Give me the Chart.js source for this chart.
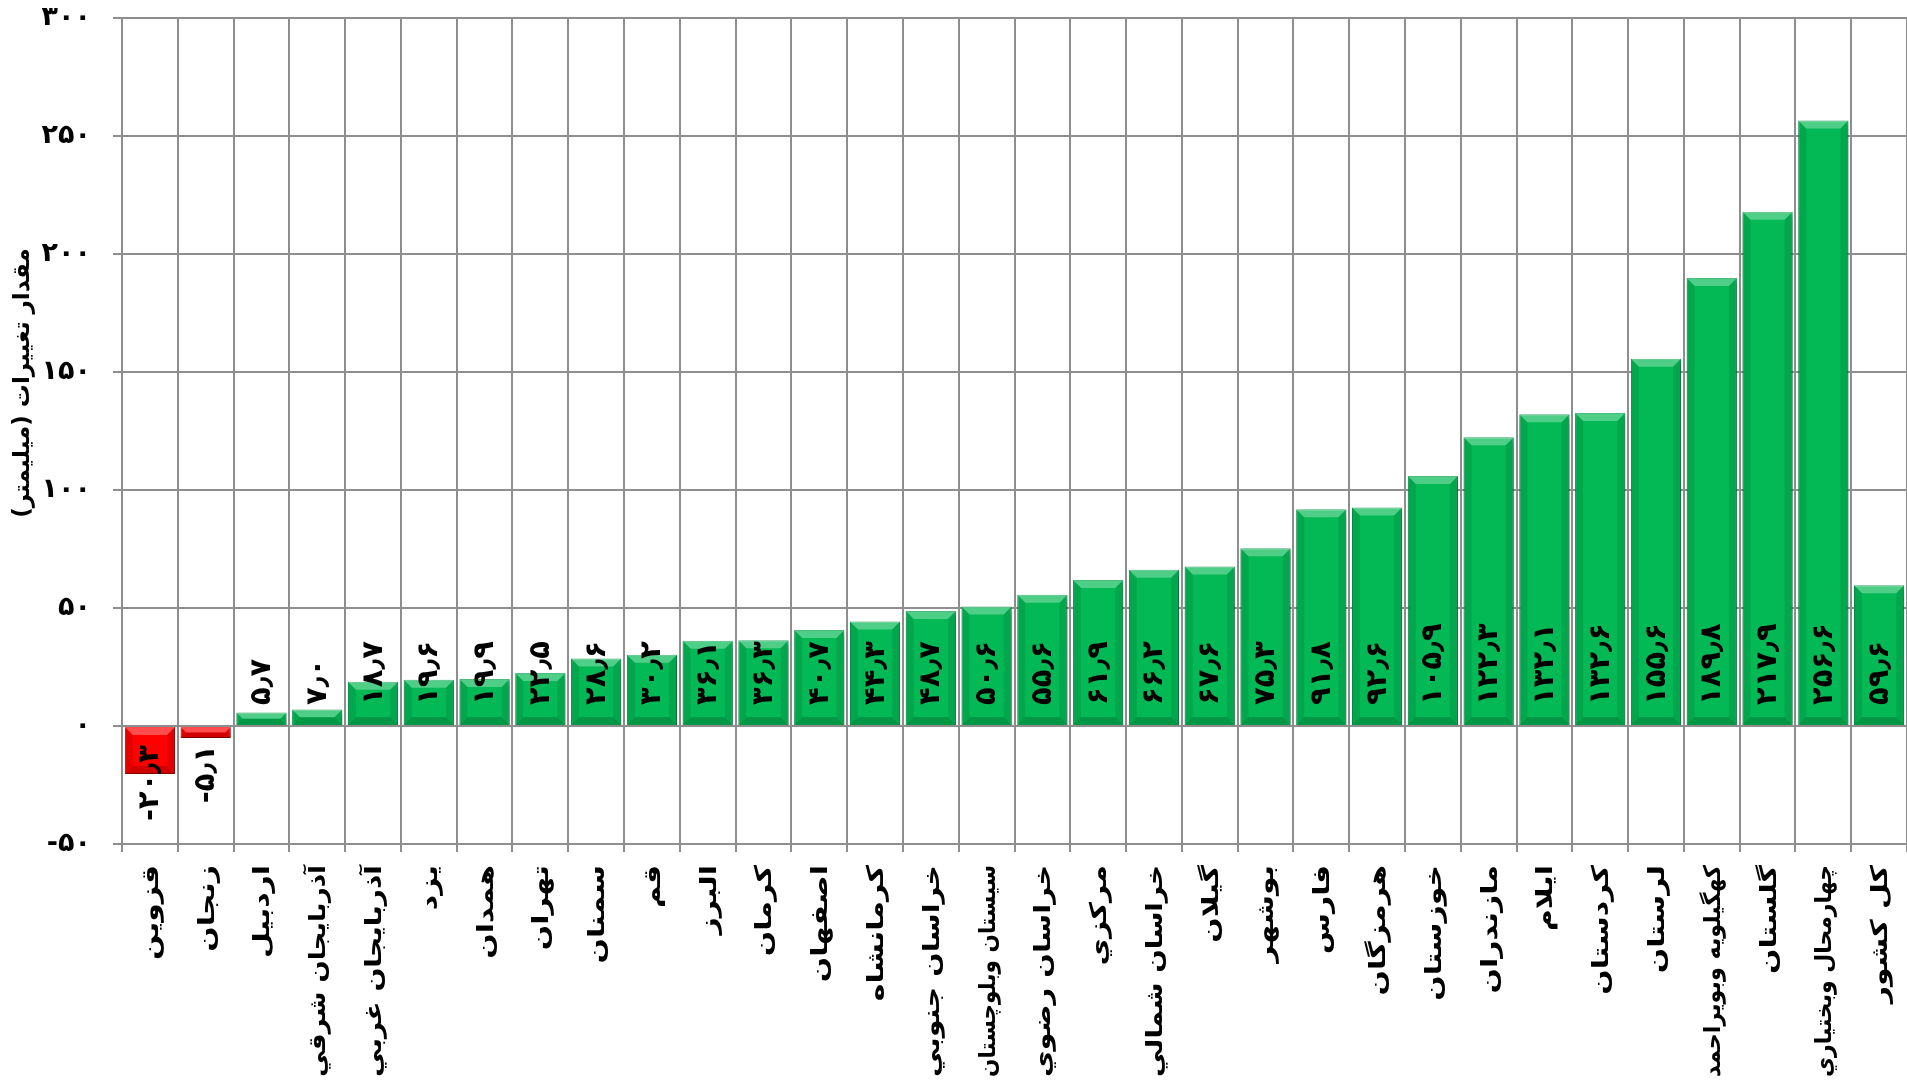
<!DOCTYPE html>
<html>
<head>
<meta charset="utf-8">
<script src="https://cdn.jsdelivr.net/npm/chart.js@4.4.0/dist/chart.umd.min.js"></script>
<style>
html, body { margin: 0; padding: 0; background: #fff; overflow: hidden; }
</style>
</head>
<body>
<canvas id="myChart" width="1907" height="1083"></canvas>
<script>
// استان ها
const provinces = ['قزوین', 'زنجان', 'اردبیل', 'آذربایجان شرقي', 'آذربایجان غربي', 'یزد', 'همدان', 'تهران',
  'سمنان', 'قم', 'البرز', 'کرمان', 'اصفهان', 'کرمانشاه', 'خراسان جنوبي', 'سیستان وبلوچستان',
  'خراسان رضوي', 'مرکزي', 'خراسان شمالي', 'گیلان', 'بوشهر', 'فارس', 'هرمزگان', 'خوزستان',
  'مازندران', 'ایلام', 'کردستان', 'لرستان', 'کهگیلویه وبویراحمد', 'گلستان', 'چهارمحال وبختیاري', 'کل کشور'];
// مقدار تغییرات (میلیمتر)
const values = [-20.3, -5.1, 5.7, 7.0, 18.7, 19.6, 19.9, 22.5,
  28.6, 30.2, 36.1, 36.3, 40.7, 44.3, 48.7, 50.6,
  55.6, 61.9, 66.2, 67.6, 75.3, 91.8, 92.6, 105.9,
  122.3, 132.1, 132.6, 155.6, 189.8, 217.9, 256.6, 59.6];
const yMin = -50, yMax = 300, yStep = 50;
const yTitle = 'مقدار تغییرات (میلیمتر)';

const faDigits = '۰۱۲۳۴۵۶۷۸۹';
function toFa(n, dec) {
  const s = dec ? n.toFixed(1) : String(n);
  return s.replace(/\d/g, d => faDigits[d]).replace('.', '٫');
}

const gridCol = '#8e8e8e';

// سایه، برجستگی و برچسب ها
const extras = {
  id: 'extras',
  beforeDatasetsDraw(chart) {
    const c = chart.ctx;
    c.save();
    c.shadowColor = 'rgba(0,0,0,0.35)';
    c.shadowBlur = 5;
    c.shadowOffsetX = 2;
    c.shadowOffsetY = 3;
  },
  afterDatasetsDraw(chart) {
    const c = chart.ctx;
    c.restore();
    const y0 = chart.scales.y.getPixelForValue(0);
    chart.getDatasetMeta(0).data.forEach((bar, i) => {
      const p = bar.getProps(['x', 'y', 'base', 'width'], true);
      const l = p.x - p.width / 2, r = p.x + p.width / 2;
      const top = Math.min(p.y, p.base), bot = Math.max(p.y, p.base);
      const b = Math.min(8, (bot - top) / 2);
      c.fillStyle = 'rgba(255,255,255,0.3)';
      c.beginPath(); c.moveTo(l, top); c.lineTo(r, top); c.lineTo(r - b, top + b); c.lineTo(l + b, top + b); c.closePath(); c.fill();
      c.fillStyle = 'rgba(0,0,0,0.10)';
      c.beginPath(); c.moveTo(l, top); c.lineTo(l + b, top + b); c.lineTo(l + b, bot - b); c.lineTo(l, bot); c.closePath(); c.fill();
      c.beginPath(); c.moveTo(r, top); c.lineTo(r - b, top + b); c.lineTo(r - b, bot - b); c.lineTo(r, bot); c.closePath(); c.fill();
      c.fillStyle = 'rgba(0,0,0,0.18)';
      c.beginPath(); c.moveTo(l, bot); c.lineTo(r, bot); c.lineTo(r - b, bot - b); c.lineTo(l + b, bot - b); c.closePath(); c.fill();

      const pos = values[i] >= 0;
      c.save();
      c.translate(p.x + 1, pos ? y0 - 21 : y0 + 19);
      c.rotate(-Math.PI / 2);
      c.font = 'bold 29px "DejaVu Sans"';
      c.fillStyle = '#000';
      c.textBaseline = 'middle';
      c.textAlign = pos ? 'left' : 'right';
      c.letterSpacing = '6px';
      c.fillText(toFa(values[i], true), 0, 0);
      c.restore();
    });
  },
  afterDraw(chart) {
    const c = chart.ctx;
    const xs = chart.scales.x;
    const yb = chart.chartArea.bottom;
    c.font = 'bold 23px "DejaVu Sans"';
    provinces.forEach((name, i) => {
      const w = c.measureText(name).width;
      const s = Math.min(1.3, 212 / w);
      c.save();
      c.translate(xs.getPixelForValue(i) + 2, yb + 21);
      c.rotate(-Math.PI / 2);
      c.scale(s, 1);
      c.fillStyle = '#000';
      c.direction = 'rtl';
      c.textAlign = 'right';
      c.textBaseline = 'middle';
      c.fillText(name, 0, 0);
      c.restore();
    });
    // عنوان محور عمودی
    c.save();
    c.translate(23, 383);
    c.rotate(-Math.PI / 2);
    c.font = 'bold 23px "DejaVu Sans"';
    c.fillStyle = '#000';
    c.direction = 'rtl';
    c.textAlign = 'center';
    c.textBaseline = 'middle';
    c.fillText(yTitle, 0, 0);
    c.restore();
  }
};

const ctx = document.getElementById('myChart');
new Chart(ctx, {
  type: 'bar',
  data: {
    labels: provinces,
    datasets: [{
      data: values,
      backgroundColor: values.map(v => v < 0 ? '#ff0000' : '#03b955'),
      borderColor: values.map(v => v < 0 ? '#d00000' : '#02a049'),
      borderWidth: 1,
      barPercentage: 0.9,
      categoryPercentage: 1
    }]
  },
  options: {
    responsive: false,
    animation: false,
    layout: { padding: { top: 18, right: 0, left: 0, bottom: 0 } },
    plugins: { legend: { display: false }, tooltip: { enabled: false } },
    scales: {
      x: {
        grid: { offset: true, color: gridCol, lineWidth: 2, tickLength: 8 },
        border: { color: gridCol, width: 2 },
        ticks: { display: false },
        afterFit(s) { s.height = 1083 - 844; }
      },
      y: {
        min: yMin, max: yMax,
        ticks: {
          stepSize: yStep,
          callback: v => toFa(v),
          color: '#000',
          padding: 22,
          font: { family: 'DejaVu Sans', size: 27, weight: 'bold' }
        },
        grid: { color: gridCol, lineWidth: 2, tickLength: 9 },
        border: { color: gridCol, width: 2 },
        afterFit(s) { s.width = 122; s.paddingTop = 0; s.paddingBottom = 0; }
      }
    }
  },
  plugins: [extras]
});
</script>
</body>
</html>
